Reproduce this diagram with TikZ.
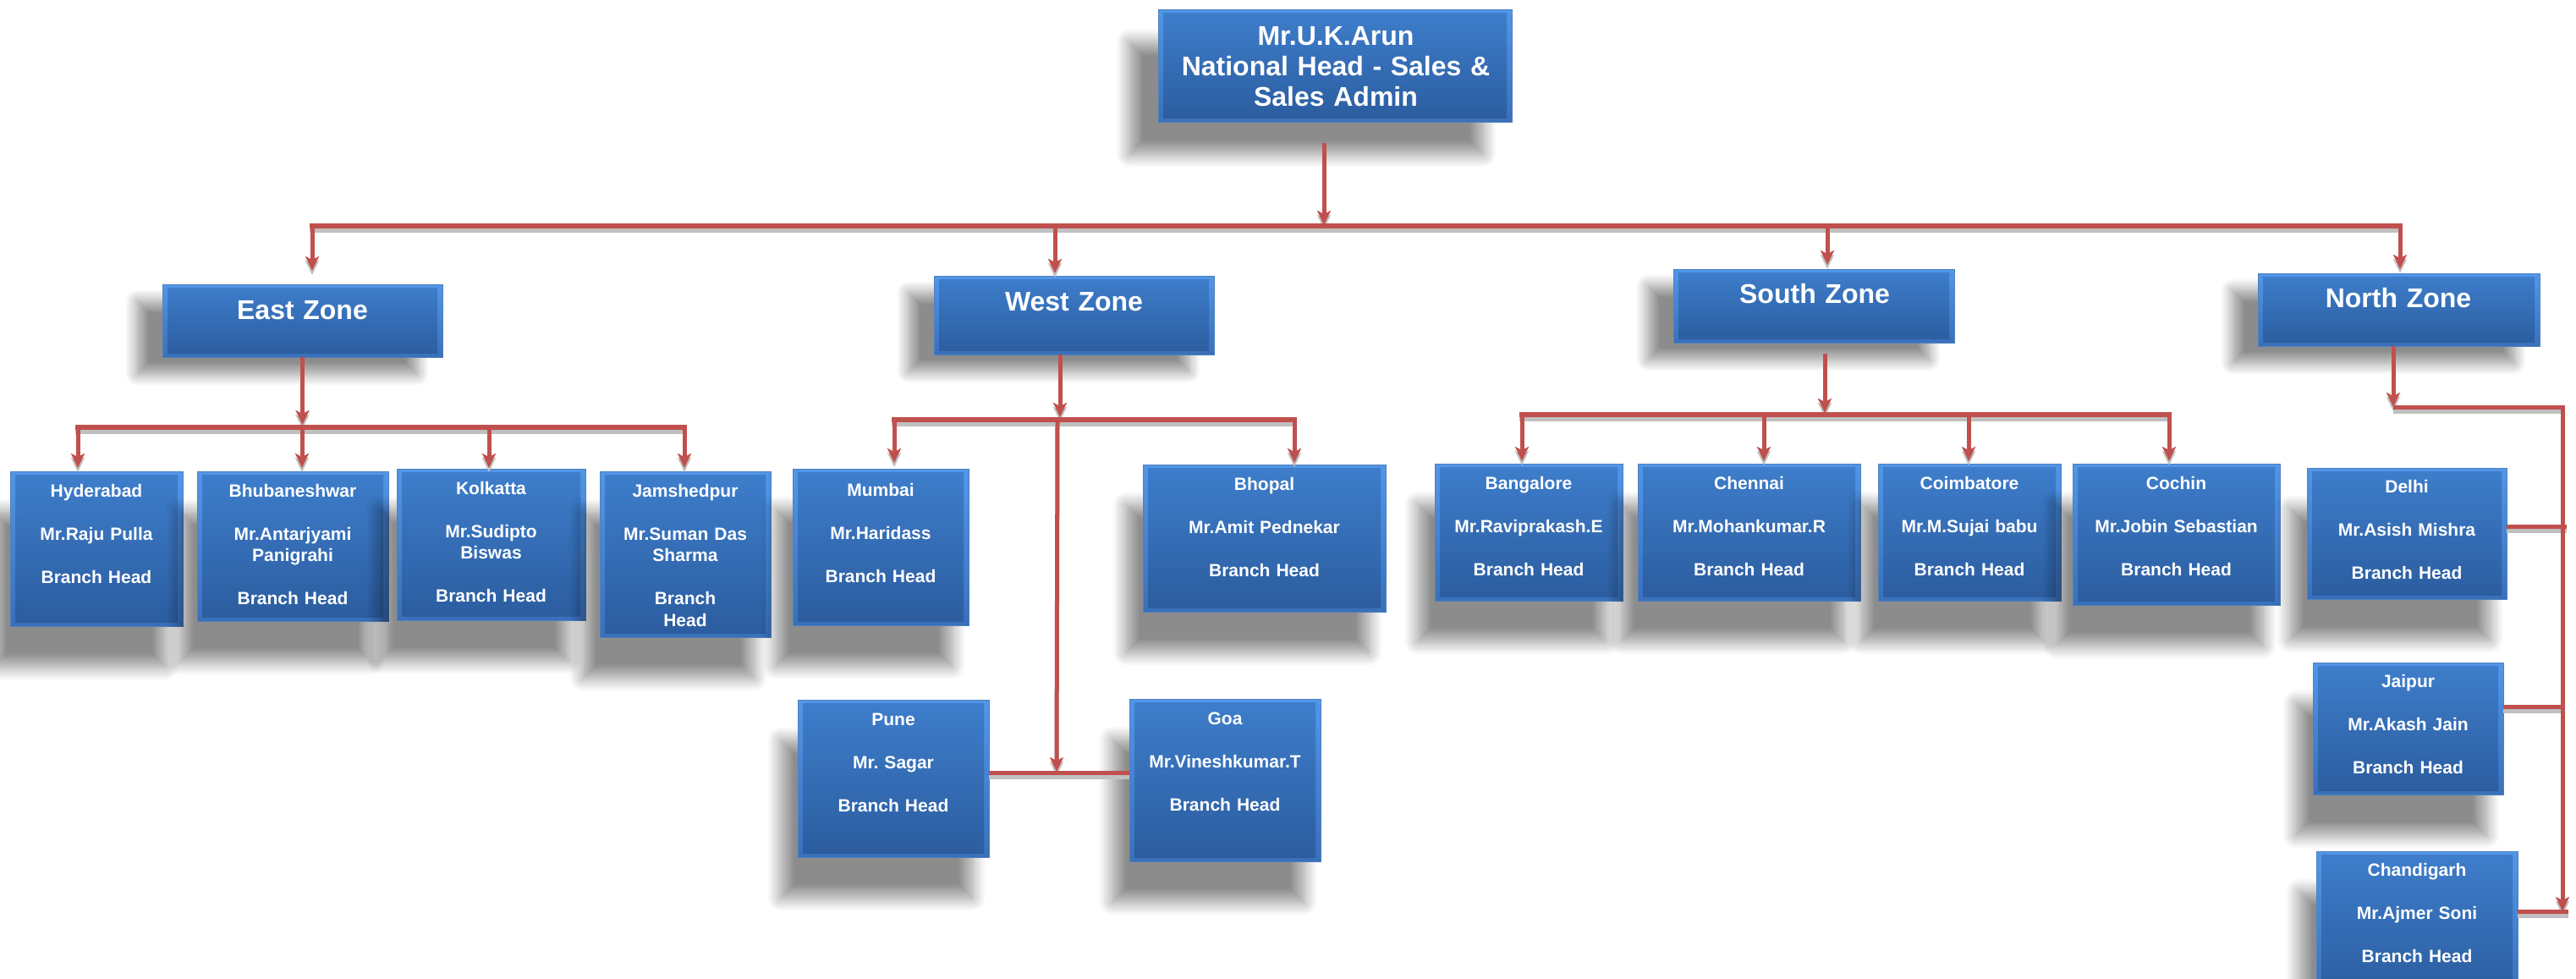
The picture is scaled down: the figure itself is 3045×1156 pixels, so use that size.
\documentclass[tikz,border=0pt]{standalone}
\usepackage{fontspec}
\setmainfont{Liberation Sans}
\usetikzlibrary{arrows.meta,calc,shadows.blur}
\definecolor{redc}{RGB}{192,80,77}
\definecolor{shgray}{RGB}{192,192,192}
\definecolor{bordc}{RGB}{79,129,189}
\definecolor{bevtop}{RGB}{82,150,232}
\definecolor{bevbot}{RGB}{58,112,186}
\definecolor{bodytop}{RGB}{62,126,204}
\definecolor{bodybot}{RGB}{43,92,158}
\tikzset{
  bx/.style={rectangle, draw=bordc, line width=1pt, inner sep=0pt, outer sep=0pt,
    top color=bevtop, bottom color=bevbot,
    path picture={\shade[top color=bodytop, bottom color=bodybot]
      ([xshift=6pt,yshift=-4pt]path picture bounding box.north west) rectangle
      ([xshift=-6pt,yshift=5pt]path picture bounding box.south east);}},
  shtop/.style={blur shadow={shadow xshift=-34pt, shadow yshift=-38pt, shadow blur radius=16pt, shadow blur steps=14, shadow opacity=45}},
  shzone/.style={blur shadow={shadow xshift=-30pt, shadow yshift=-20pt, shadow blur radius=14pt, shadow blur steps=14, shadow opacity=45}},
  shbr/.style={blur shadow={shadow xshift=-20pt, shadow yshift=-48pt, shadow blur radius=16pt, shadow blur steps=14, shadow opacity=45}},
  tx/.style={text=white, align=center, inner sep=0pt, anchor=base, text width=320pt,
    font=\bfseries\fontsize{21}{25.5}\selectfont},
  tzx/.style={text=white, align=center, inner sep=0pt, anchor=base, text width=440pt,
    font=\bfseries\fontsize{32}{36}\selectfont},
  lc/.style={draw=redc},
  ln/.style={lc, line width=5pt},
  barln/.style={lc, line width=6pt, line cap=rect},
  arw/.style={ln, -{Stealth[length=17pt,width=16pt,inset=4pt]}},
}
\newcommand\myconnectors{%
  % national head to zones
  \draw[arw] ($(top.south)+(-13,25)$) -- ($(top.south)+(-13,122)$);
  \draw[barln] (b0L) -- (b0R);
  \draw[arw] (b0L) -- ($(ez.north)+(11.5,-16)$);
  \draw[arw] (b0W) -- ($(wz.north)+(-22.5,-3)$);
  \draw[arw] (b0S) -- ($(sz.north)+(16,-5)$);
  \draw[arw] (b0R) -- ($(nz.north)+(1.5,-5)$);
  % east
  \draw[arw] (ez.south) -- ++(0,80);
  \draw[barln] (eL) -- (eR);
  \draw[arw] (eL) -- ($(hyd.north)+(-22,-4)$);
  \draw[arw] (eB) -- ($(bhu.north)+(11,-4)$);
  \draw[arw] (eK) -- ($(kol.north)+(-2.5,-1)$);
  \draw[arw] (eR) -- ($(jam.north)+(-1,-4)$);
  % west
  \draw[arw] ($(wz.south)+(-16.5,0)$) -- ($(wz.south)+(-16.5,74)$);
  \draw[barln] (wL) -- (wR);
  \draw[arw] (wL) -- ($(mum.north)+(16,-7)$);
  \draw[arw] (wR) -- ($(bho.north)+(35.5,-2)$);
  \draw[ln] ($(pun.east)+(0,-7)$) -- ($(goa.west)+(0,-9)$);
  \draw[arw] (wM) -- (pg);
  % south
  \draw[arw] ($(sz.south)+(13,13)$) -- ($(sz.south)+(13,83)$);
  \draw[barln] (sL) -- (sR);
  \draw[arw] (sL) -- ($(ban.north)+(-8,-3)$);
  \draw[arw] (sC) -- ($(che.north)+(17.5,-3)$);
  \draw[arw] (sK) -- ($(coi.north)+(-1,-3)$);
  \draw[arw] (sR) -- ($(coc.north)+(-8.5,-3)$);
  % north
  \draw[arw] ($(nz.south)+(-6.5,0)$) -- (nC);
  \draw[ln] ($(del.east)+(0,-8.5)$) -- ++(71,0);
  \draw[ln] ($(jai.east)+(0,-26)$) -- ++(70,0);
  \draw[ln] ($(cha.east)+(0,-16)$) -- ++(60,0);
  \draw[arw, line join=miter] (nC) -- (nR) -- (nB);
}
\begin{document}
\begin{tikzpicture}[x=1pt,y=-1pt]
\useasboundingbox (0,0) rectangle (3045,1156);
% boxes
\node[bx,shtop,minimum width=418pt,minimum height=132pt] (top) at (1578,78) {};
\node[bx,shzone,minimum width=331pt,minimum height=86pt] (ez) at (357.5,379) {};
\node[bx,shzone,minimum width=331pt,minimum height=93pt] (wz) at (1269.5,372.5) {};
\node[bx,shzone,minimum width=332pt,minimum height=87pt] (sz) at (2144,361.5) {};
\node[bx,shzone,minimum width=333pt,minimum height=86pt] (nz) at (2835.5,366) {};
\node[bx,shbr,minimum width=204pt,minimum height=183pt] (hyd) at (114,648.5) {};
\node[bx,shbr,minimum width=226pt,minimum height=177pt] (bhu) at (346,645.5) {};
\node[bx,shbr,minimum width=223pt,minimum height=179pt] (kol) at (580.5,643.5) {};
\node[bx,shbr,minimum width=202pt,minimum height=196pt] (jam) at (810,655) {};
\node[bx,shbr,minimum width=208pt,minimum height=185pt] (mum) at (1041,646.5) {};
\node[bx,shbr,minimum width=287pt,minimum height=174pt] (bho) at (1494.5,636) {};
\node[bx,shbr,minimum width=226pt,minimum height=186pt] (pun) at (1056,920) {};
\node[bx,shbr,minimum width=226pt,minimum height=192pt] (goa) at (1448,922) {};
\node[bx,shbr,minimum width=222pt,minimum height=162pt] (ban) at (1807,629) {};
\node[bx,shbr,minimum width=263pt,minimum height=162pt] (che) at (2067.5,629) {};
\node[bx,shbr,minimum width=216pt,minimum height=162pt] (coi) at (2328,629) {};
\node[bx,shbr,minimum width=245pt,minimum height=167pt] (coc) at (2572.5,631.5) {};
\node[bx,shbr,minimum width=236pt,minimum height=155pt] (del) at (2845,630.5) {};
\node[bx,shbr,minimum width=225pt,minimum height=156pt] (jai) at (2846.5,861) {};
\node[bx,shbr,minimum width=238pt,minimum height=174pt] (cha) at (2857,1093) {};
% junction points
\coordinate (b0L) at (369,267);
\coordinate (b0W) at (1247,267);
\coordinate (b0S) at (2160,267);
\coordinate (b0R) at (2837,267);
\coordinate (eL) at (92,505);
\coordinate (eB) at (357,505);
\coordinate (eK) at (578,505);
\coordinate (eR) at (809,505);
\coordinate (wL) at (1057,496);
\coordinate (wM) at (1250,496);
\coordinate (wR) at (1530,496);
\coordinate (pg) at (1249,912);
\coordinate (sL) at (1799,490);
\coordinate (sC) at (2085,490);
\coordinate (sK) at (2327,490);
\coordinate (sR) at (2564,490);
\coordinate (nC) at (2829,481);
\coordinate (nR) at (3029,481);
\coordinate (nB) at (3029,1077);
% connector shadows, then connectors
\begin{scope}[transform canvas={yshift=-5pt}, lc/.style={draw=shgray}]
\myconnectors
\end{scope}
\myconnectors
% texts
\node[tzx] (top-t) at (1579,53) {Mr.U.K.Arun\\National Head - Sales \&\\Sales Admin};
\node[tzx] (ez-t) at (357.5,377) {East Zone};
\node[tzx] (wz-t) at (1269.5,367) {West Zone};
\node[tzx] (sz-t) at (2145,358) {South Zone};
\node[tzx] (nz-t) at (2835,363) {North Zone};
\node[tx] (hyd-t) at (114,587) {Hyderabad\\[25.5pt]Mr.Raju Pulla\\[25.5pt]Branch Head};
\node[tx] (bhu-t) at (346,587) {Bhubaneshwar\\[25.5pt]Mr.Antarjyami\\Panigrahi\\[25.5pt]Branch Head};
\node[tx] (kol-t) at (580.5,584) {Kolkatta\\[25.5pt]Mr.Sudipto\\Biswas\\[25.5pt]Branch Head};
\node[tx] (jam-t) at (810,587) {Jamshedpur\\[25.5pt]Mr.Suman Das\\Sharma\\[25.5pt]Branch\\Head};
\node[tx] (mum-t) at (1041,586) {Mumbai\\[25.5pt]Mr.Haridass\\[25.5pt]Branch Head};
\node[tx] (bho-t) at (1494.5,579) {Bhopal\\[25.5pt]Mr.Amit Pednekar\\[25.5pt]Branch Head};
\node[tx] (pun-t) at (1056,857) {Pune\\[25.5pt]Mr.\ Sagar\\[25.5pt]Branch Head};
\node[tx] (goa-t) at (1448,856) {Goa\\[25.5pt]Mr.Vineshkumar.T\\[25.5pt]Branch Head};
\node[tx] (ban-t) at (1807,578) {Bangalore\\[25.5pt]Mr.Raviprakash.E\\[25.5pt]Branch Head};
\node[tx] (che-t) at (2067.5,578) {Chennai\\[25.5pt]Mr.Mohankumar.R\\[25.5pt]Branch Head};
\node[tx] (coi-t) at (2328,578) {Coimbatore\\[25.5pt]Mr.M.Sujai babu\\[25.5pt]Branch Head};
\node[tx] (coc-t) at (2572.5,578) {Cochin\\[25.5pt]Mr.Jobin Sebastian\\[25.5pt]Branch Head};
\node[tx] (del-t) at (2845,582) {Delhi\\[25.5pt]Mr.Asish Mishra\\[25.5pt]Branch Head};
\node[tx] (jai-t) at (2846.5,812) {Jaipur\\[25.5pt]Mr.Akash Jain\\[25.5pt]Branch Head};
\node[tx] (cha-t) at (2857,1035) {Chandigarh\\[25.5pt]Mr.Ajmer Soni\\[25.5pt]Branch Head};
\end{tikzpicture}
\end{document}
